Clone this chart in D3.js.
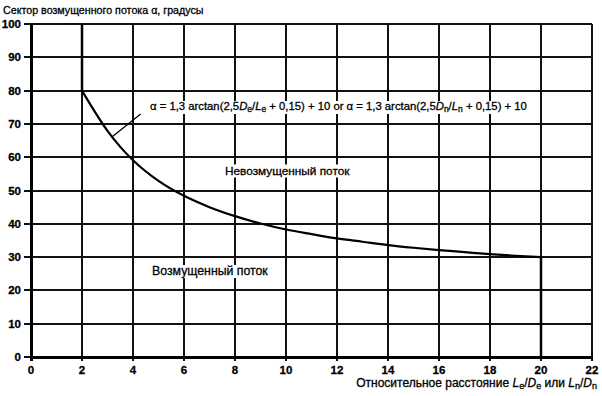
<!DOCTYPE html>
<html><head><meta charset="utf-8">
<script src="https://cdn.jsdelivr.net/npm/d3@7"></script>
<style>
html,body{margin:0;padding:0;background:#fff;}
text{font-family:"Liberation Sans",Arial,sans-serif;fill:#000;stroke:#000;stroke-width:0.3px;}
</style></head>
<body><svg id="c" width="602" height="396"></svg>
<script>
// Data
const xTicks = [0,2,4,6,8,10,12,14,16,18,20,22];
const yTicks = [0,10,20,30,40,50,60,70,80,90,100];
const curveX = [2,2.5,3,3.5,4,5,6,7,8,9,10,11,12,13,14,15,16,17,18,19,20];
const curveY = [80,73.7,67.9,63.1,59.1,52.9,48.4,45.0,42.3,40.1,38.3,36.9,35.6,34.6,33.6,32.8,32.1,31.5,30.9,30.4,30.0];
const leftBoundX = [2,2];
const leftBoundY = [100,80];
const rightBoundX = [20,20];
const rightBoundY = [30,0];
const yTitle = "Сектор возмущенного потока α, градусы";
const regionUpper = "Невозмущенный поток";
const regionLower = "Возмущенный поток";

const svg = d3.select("#c");
const x = d3.scaleLinear().domain([0,22]).range([31,592]);
const y = d3.scaleLinear().domain([0,100]).range([357,24]);
const px = v => Math.round(x(v));
const py = v => Math.round(y(v));

// grid
const g = svg.append("g").attr("shape-rendering","crispEdges");
g.selectAll(".vx").data(xTicks).join("line")
  .attr("x1",px).attr("x2",px).attr("y1",py(0)+4).attr("y2",py(100))
  .attr("stroke","#111").attr("stroke-width",2);
g.selectAll(".hy").data(yTicks).join("line")
  .attr("x1",px(0)-7).attr("x2",px(22)).attr("y1",py).attr("y2",py)
  .attr("stroke","#111").attr("stroke-width",2);
// axes emphasis
g.append("line").attr("x1",px(0)).attr("x2",px(22)+1).attr("y1",py(0)).attr("y2",py(0)).attr("stroke","#000").attr("stroke-width",3);
g.append("line").attr("x1",px(0)).attr("x2",px(0)).attr("y1",py(0)+4).attr("y2",py(100)).attr("stroke","#000").attr("stroke-width",3);

// tick labels
svg.selectAll(".xl").data(xTicks).join("text")
  .attr("x",d=>x(d)).attr("y",374).attr("text-anchor","middle")
  .attr("font-size",11.5).attr("font-weight","bold").text(d=>d);
svg.selectAll(".yl").data(yTicks).join("text")
  .attr("x",21).attr("y",d=>y(d)+4).attr("text-anchor","end")
  .attr("font-size",11.5).attr("font-weight","bold").text(d=>d);

// titles
svg.append("text").attr("x",3).attr("y",14).attr("font-size",10.7).text(yTitle);
const xt = svg.append("text").attr("x",597).attr("y",387).attr("text-anchor","end").attr("font-size",12);
xt.append("tspan").text("Относительное расстояние ");
xt.append("tspan").attr("font-style","italic").text("L");
xt.append("tspan").attr("font-size",9).attr("dy",2).text("e");
xt.append("tspan").attr("dy",-2).text("/");
xt.append("tspan").attr("font-style","italic").text("D");
xt.append("tspan").attr("font-size",9).attr("dy",2).text("e");
xt.append("tspan").attr("dy",-2).text(" или ");
xt.append("tspan").attr("font-style","italic").text("L");
xt.append("tspan").attr("font-size",9).attr("dy",2).text("n");
xt.append("tspan").attr("dy",-2).text("/");
xt.append("tspan").attr("font-style","italic").text("D");
xt.append("tspan").attr("font-size",9).attr("dy",2).text("n");

// boundary curve
const pts = curveX.map((d,i)=>[d,curveY[i]]);
const line = d3.line().x(d=>x(d[0])).y(d=>y(d[1])).curve(d3.curveMonotoneX);
svg.append("path").attr("d",line(pts)).attr("fill","none").attr("stroke","#000").attr("stroke-width",2.2);
const seg = d3.line().x(d=>px(d[0])).y(d=>py(d[1]));
svg.append("path").attr("d",seg(leftBoundX.map((d,i)=>[d,leftBoundY[i]]))).attr("stroke","#000").attr("stroke-width",2.5).attr("fill","none");
svg.append("path").attr("d",seg(rightBoundX.map((d,i)=>[d,rightBoundY[i]]))).attr("stroke","#000").attr("stroke-width",2.5).attr("fill","none");

// labels with white background
function label(tx, ty, build, fs){
  const t = svg.append("text").attr("x",tx).attr("y",ty).attr("font-size",fs);
  build(t);
  const bb = t.node().getBBox();
  svg.insert("rect", function(){return t.node();})
    .attr("x",bb.x-3).attr("y",bb.y+1).attr("width",bb.width+6).attr("height",bb.height-1).attr("fill","#fff");
  return t;
}
label(150,110,t=>{
  t.append("tspan").text("α = 1,3 arctan(2,5");
  t.append("tspan").attr("font-style","italic").text("D");
  t.append("tspan").attr("font-size",8.5).attr("dy",2).text("e");
  t.append("tspan").attr("dy",-2).text("/");
  t.append("tspan").attr("font-style","italic").text("L");
  t.append("tspan").attr("font-size",8.5).attr("dy",2).text("e");
  t.append("tspan").attr("dy",-2).text(" + 0,15) + 10 or α = 1,3 arctan(2,5");
  t.append("tspan").attr("font-style","italic").text("D");
  t.append("tspan").attr("font-size",8.5).attr("dy",2).text("n");
  t.append("tspan").attr("dy",-2).text("/");
  t.append("tspan").attr("font-style","italic").text("L");
  t.append("tspan").attr("font-size",8.5).attr("dy",2).text("n");
  t.append("tspan").attr("dy",-2).text(" + 0,15) + 10");
},11.3);
label(225,174.5,t=>t.text(regionUpper),11.8);
label(152,275,t=>t.text(regionLower),12.3);

// leader line
svg.append("line").attr("x1",x(3.16)).attr("y1",y(66)).attr("x2",x(4.3)).attr("y2",y(73))
  .attr("stroke","#000").attr("stroke-width",1.3);
</script></body></html>
